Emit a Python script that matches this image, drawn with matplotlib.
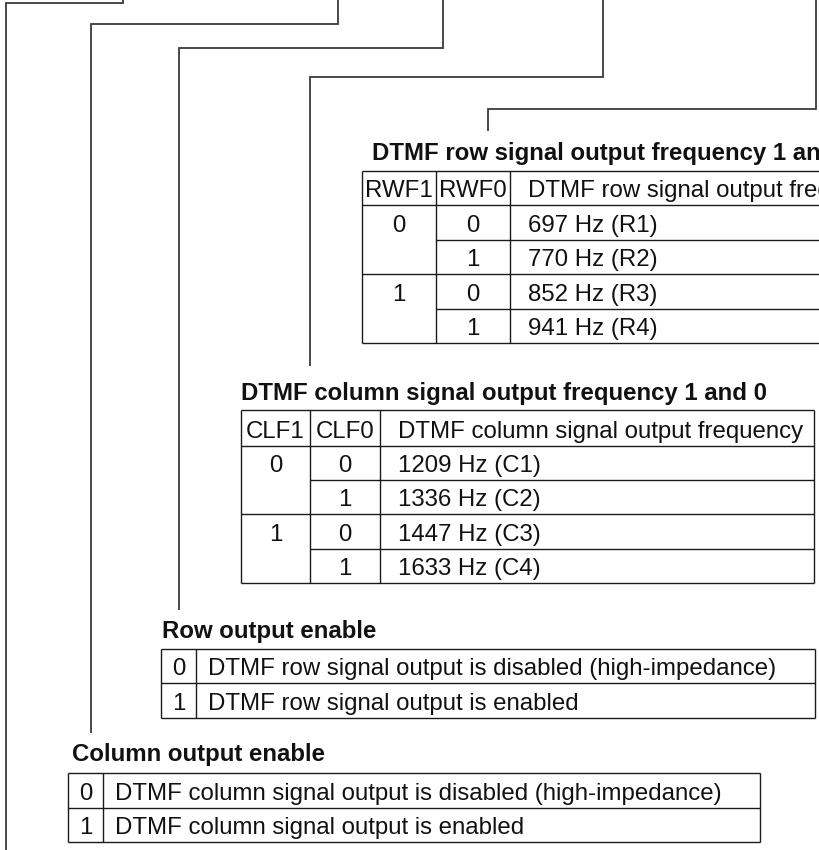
import matplotlib
matplotlib.use("Agg")
import matplotlib.pyplot as plt

# ---------------- data ----------------
row_title = "DTMF row signal output frequency 1 and 0"
row_headers = ["RWF1", "RWF0", "DTMF row signal output frequency"]
row_bit1 = ["0", "", "1", ""]
row_bit0 = ["0", "1", "0", "1"]
row_freqs = ["697 Hz (R1)", "770 Hz (R2)", "852 Hz (R3)", "941 Hz (R4)"]

col_title = "DTMF column signal output frequency 1 and 0"
col_headers = ["CLF1", "CLF0", "DTMF column signal output frequency"]
col_bit1 = ["0", "", "1", ""]
col_bit0 = ["0", "1", "0", "1"]
col_freqs = ["1209 Hz (C1)", "1336 Hz (C2)", "1447 Hz (C3)", "1633 Hz (C4)"]

row_en_title = "Row output enable"
row_en_bits = ["0", "1"]
row_en_desc = ["DTMF row signal output is disabled (high-impedance)",
               "DTMF row signal output is enabled"]

col_en_title = "Column output enable"
col_en_bits = ["0", "1"]
col_en_desc = ["DTMF column signal output is disabled (high-impedance)",
               "DTMF column signal output is enabled"]

# ---------------- layout ----------------
W, H = 819, 850
FONT = ["Liberation Sans", "DejaVu Sans"]
FS = 17.3
LC = "#1a1a1a"
LW = 1.0
CC = "#3a3a3a"
CW = 1.3

fig = plt.figure(figsize=(W / 100, H / 100), dpi=100)
fig.patch.set_facecolor("white")
ax = fig.add_axes([0, 0, 1, 1])
ax.set_xlim(0, W)
ax.set_ylim(H, 0)
ax.axis("off")


def line(xs, ys, color=LC, lw=LW):
    ax.plot(xs, ys, color=color, lw=lw, solid_capstyle="butt",
            solid_joinstyle="miter")


def txt(x, y, s, ha="left", bold=False):
    ax.text(x, y, s, ha=ha, va="baseline", fontsize=FS, family=FONT,
            fontweight="bold" if bold else "normal", color="#111111")


# connector lines: (x_left, y_bottom, y_horizontal, x_right)
connectors = [(6, 850, 3, 123), (91, 733, 24, 338), (179, 610, 48, 443),
              (310, 366, 77, 603), (488, 131, 109, 816)]
for xl, yb, yh, xr in connectors:
    line([xl, xl, xr, xr], [yb, yh, yh, 0], color=CC, lw=CW)


def freq_table(xe, ye, xr, title, tx, ty, headers, bit1, bit0, desc):
    txt(tx, ty, title, bold=True)
    x0 = xe[0]
    # outer box
    line([x0, xr], [ye[0], ye[0]])
    line([x0, xr], [ye[-1], ye[-1]])
    line([x0, x0], [ye[0], ye[-1]])
    if xr < W:
        line([xr, xr], [ye[0], ye[-1]])
    for xv in xe[1:]:
        line([xv, xv], [ye[0], ye[-1]])
    line([x0, xr], [ye[1], ye[1]])
    for i in range(1, len(bit1)):
        yy = ye[1 + i]
        start = xe[1] if bit1[i] == "" else x0
        line([start, xr], [yy, yy])
    # header
    hb = ye[1] - 8.5
    txt((xe[0] + xe[1]) / 2, hb, headers[0], ha="center")
    txt((xe[1] + xe[2]) / 2, hb, headers[1], ha="center")
    txt(xe[2] + 18, hb, headers[2])
    for i in range(len(bit0)):
        yb = ye[2 + i] - 8
        if bit1[i]:
            txt((xe[0] + xe[1]) / 2, yb, bit1[i], ha="center")
        txt((xe[1] + xe[2]) / 2, yb, bit0[i], ha="center")
        txt(xe[2] + 18, yb, desc[i])


def enable_table(x0, xd, xr, ye, title, tx, ty, bits, desc):
    txt(tx, ty, title, bold=True)
    for yy in ye:
        line([x0, xr], [yy, yy])
    for xv in (x0, xd, xr):
        line([xv, xv], [ye[0], ye[-1]])
    for i in range(len(bits)):
        yb = ye[i + 1] - 8
        txt((x0 + xd) / 2, yb, bits[i], ha="center")
        txt(xd + 12, yb, desc[i])


freq_table([362, 436, 510], [171, 205, 240, 274, 309, 343], 960,
           row_title, 372, 160, row_headers, row_bit1, row_bit0, row_freqs)
freq_table([241, 310, 380], [410, 446, 480, 514, 549, 583], 814,
           col_title, 241, 400, col_headers, col_bit1, col_bit0, col_freqs)
enable_table(161, 196, 815, [649, 683, 718], row_en_title, 162, 638,
             row_en_bits, row_en_desc)
enable_table(68, 103, 760, [773, 808, 842], col_en_title, 72, 761,
             col_en_bits, col_en_desc)

fig.savefig("out.png", dpi=100, facecolor="white")
